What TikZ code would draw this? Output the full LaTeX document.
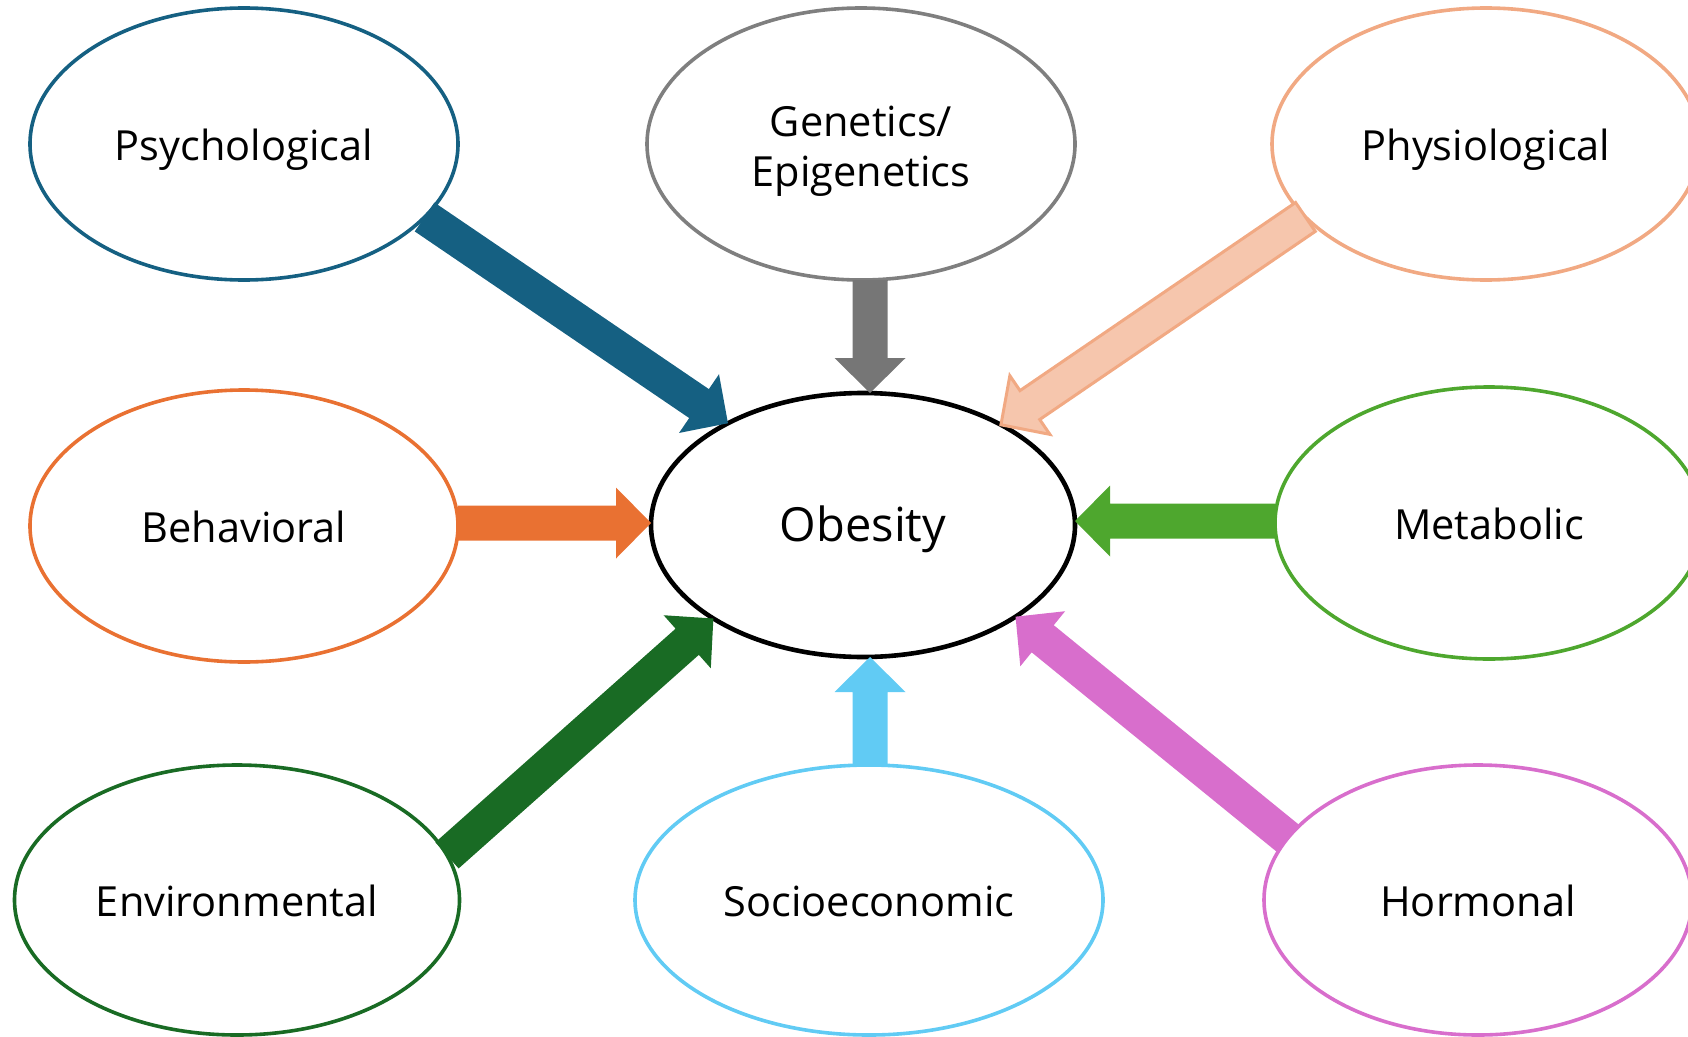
\documentclass[tikz,border=0pt]{standalone}
\usepackage{fontspec}
\setmainfont{Open Sans}
\usetikzlibrary{calc,shapes.geometric}
\definecolor{cpsy}{HTML}{156082}
\definecolor{cgen}{HTML}{7F7F7F}
\definecolor{cgenarr}{HTML}{767676}
\definecolor{cphy}{HTML}{F1A983}
\definecolor{cphyfill}{HTML}{F6C6AD}
\definecolor{cbeh}{HTML}{E97132}
\definecolor{cmet}{HTML}{4EA72E}
\definecolor{cenv}{HTML}{196B24}
\definecolor{csoc}{HTML}{61CBF4}
\definecolor{chor}{HTML}{D86ECC}
\newcommand{\blockarr}[3]{%
  \coordinate (tA) at #2;
  \coordinate (tB) at #3;
  \coordinate (tP) at ($(tB)!35pt!(tA)$);
  \path[#1] ($(tA)!17.5pt!-90:(tB)$) -- ($(tP)!17.5pt!90:(tA)$) -- ($(tP)!35.5pt!90:(tA)$) -- (tB)
    -- ($(tP)!35.5pt!-90:(tA)$) -- ($(tP)!17.5pt!-90:(tA)$) -- ($(tA)!17.5pt!90:(tB)$) -- cycle;}
\begin{document}
\begin{tikzpicture}[x=1pt,y=1pt,
  factor/.style={ellipse, draw, line width=3.6pt, minimum width=428pt, minimum height=272pt,
    inner sep=0pt, outer sep=0pt, font=\fontsize{41.5}{50}\selectfont,
    text height=33pt, text depth=0pt},
  arr/.style={fill=#1}]
\useasboundingbox (0,0) rectangle (1688,-1036);
\node[factor, draw=cpsy] (psy) at (244,-144) {Psychological};
\node[factor, draw=cgen, text depth=49pt] (gen) at (861,-144)
  {\begin{tabular}[t]{@{}c@{}}Genetics/\\Epigenetics\end{tabular}};
\node[factor, draw=cphy] (phy) at (1486,-144) {Physiological};
\node[factor, draw=cbeh] (beh) at (244,-526) {Behavioral};
\node[factor, draw=black, line width=4.6pt, minimum width=424pt, minimum height=264pt,
  font=\fontsize{47}{56}\selectfont] (ob) at (863,-525) {Obesity};
\node[factor, draw=cmet] (met) at (1489,-523) {Metabolic};
\node[factor, draw=cenv, minimum width=445pt, minimum height=270pt] (env) at (237,-900) {Environmental};
\node[factor, draw=csoc, minimum width=468pt, minimum height=270pt] (soc) at (869,-900) {Socioeconomic};
\node[factor, draw=chor, minimum height=270pt] (hor) at (1478,-900) {Hormonal};
\coordinate (lefty) at (0,-523);
\coordinate (righty) at (0,-521);
\coordinate (midx) at (870,0);
\blockarr{arr=cpsy}{(psy.-22)}{(ob.143)}
\blockarr{arr=cgenarr}{(gen.south -| midx)}{(ob.north -| midx)}
\blockarr{fill=cphyfill, draw=cphy, line width=3pt, line join=miter}{(phy.-158)}{(ob.36.5)}
\blockarr{arr=cbeh}{(beh.east |- lefty)}{(ob.west |- lefty)}
\blockarr{arr=cmet}{(met.west |- righty)}{(ob.east |- righty)}
\blockarr{arr=cenv}{(env.12.6)}{(ob.-148.2)}
\blockarr{arr=csoc}{(soc.north -| midx)}{(ob.south -| midx)}
\blockarr{arr=chor}{(hor.162)}{(ob.-31.2)}
\end{tikzpicture}
\end{document}
